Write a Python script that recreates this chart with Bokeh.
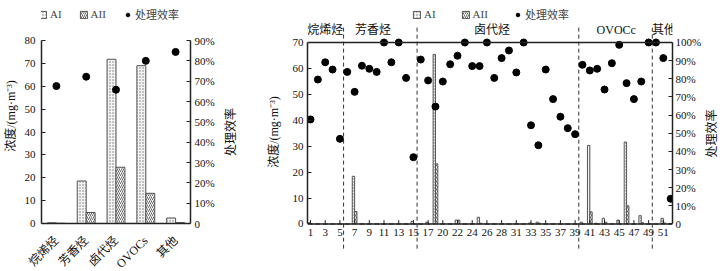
import math
from bokeh.plotting import figure
from bokeh.models import (Range1d, LinearAxis, FixedTicker, ColumnDataSource, Legend,
                          LegendItem, Span, FactorRange)
from bokeh.transform import dodge
from bokeh.layouts import row
from bokeh.core.properties import value
from bokeh.embed import file_html
from bokeh.resources import INLINE

FONT = "Liberation Serif, Noto Sans CJK SC"

# ---------------- left panel data ----------------
group_names = ["烷烯烃", "芳香烃", "卤代烃", "OVOCs", "其他"]
group_ai = [0.3, 18.6, 71.8, 69.0, 2.4]
group_aii = [0.1, 4.8, 24.6, 13.2, 0.4]
group_eff = [67.6, 72.2, 65.8, 80.0, 84.4]

# ---------------- right panel data ----------------
compound_pos = list(range(1, 51))
compound_ai = [0.5, 0, 0, 0, 0,
               0, 18.4, 0, 0, 0,
               0, 0, 0, 0, 1.0,
               0, 0.7, 65.4, 0, 0,
               1.5, 0, 0, 2.6, 0,
               0, 0, 0, 0, 0,
               0.4, 0.7, 0, 0, 0,
               0, 0, 0.7, 30.3, 0.3,
               2.2, 0, 1.5, 31.6, 0,
               3.2, 0, 0, 2.2, 0]
compound_aii = [0, 0, 0, 0, 0,
                0, 4.8, 0, 0, 0,
                0, 0, 0, 0, 0,
                0, 0, 23.2, 0, 0,
                1.5, 0, 0, 0.3, 0,
                0, 0, 0, 0, 0,
                0, 0.3, 0, 0, 0,
                0, 0, 0, 4.7, 0,
                0.7, 0, 0, 7.0, 0,
                0.5, 0, 0, 0.4, 0]
compound_eff = [57.6, 79.6, 89.1, 85.1, 46.9,
                83.8, 72.8, 87.2, 85.5, 83.8,
                100, 89.1, 100, 80.5, 36.8,
                90.6, 79.1, 64.7, 78.5, 88.0,
                92.7, 100, 87.0, 87.0, 100,
                80.5, 91.4, 95.6, 83.5, 100,
                54.4, 43.4, 85.1, 68.8, 59.1,
                52.8, 49.5, 87.7, 84.6, 85.5,
                74.1, 88.6, 98.7, 77.6, 68.8,
                78.5, 100, 100, 91.4, 13.9]
tick_labels = ["1", "3", "5", "7", "9", "11", "13", "15", "17", "20", "22", "24", "26",
               "28", "31", "33", "35", "37", "39", "41", "43", "45", "47", "49", "51"]
section_names = ["烷烯烃", "芳香烃", "卤代烃", "OVOCc", "其他"]
section_sizes = [5, 10, 22, 10, 3]
section_label_x = [3.0, 9.5, 25.7, 42.6, 49.1]

AXIS_COLOR = "#222222"
BAR_LINE = "#555555"
TOP = 8
PAGE_H = 255


def style_axis(ax, tick_in=4):
    ax.axis_line_color = AXIS_COLOR
    ax.axis_line_width = 1.5
    ax.major_tick_line_color = AXIS_COLOR
    ax.major_tick_in = tick_in
    ax.major_tick_out = 0
    ax.minor_tick_line_color = None
    ax.major_label_text_font = FONT
    ax.major_label_text_font_size = "11px"
    ax.major_label_text_color = "#111111"
    ax.axis_label_text_font = FONT
    ax.axis_label_text_font_size = "12px"
    ax.axis_label_text_font_style = "normal"
    ax.axis_label_text_color = "#111111"


def bar_styles(kind):
    if kind == "ai":
        return dict(fill_color="#f4f4f4", hatch_pattern="dot", hatch_scale=3,
                    hatch_color="#777777", hatch_weight=1.0, line_color=BAR_LINE, line_width=1)
    return dict(fill_color="white", hatch_pattern="right_diagonal_line", hatch_scale=4,
                hatch_color="#444444", hatch_weight=0.8, line_color=BAR_LINE, line_width=1)


def label_strip(width, cx, cy, text):
    """A narrow figure that only carries a vertical (bottom-to-top) axis title."""
    f = figure(x_range=Range1d(0, width), y_range=Range1d(0, PAGE_H),
               frame_width=width, frame_height=PAGE_H, output_backend="svg",
               toolbar_location=None, x_axis_location=None, y_axis_location=None,
               min_border_left=0, min_border_right=0, min_border_bottom=0,
               min_border_top=TOP, outline_line_color=None,
               background_fill_color="white", border_fill_color="white")
    f.grid.visible = False
    f.text(x=[cx], y=[cy], text=[text], angle=math.pi / 2, text_align="center",
           text_baseline="middle", text_font=value(FONT), text_font_size="12px",
           text_color="#111111")
    return f


# ================= left figure =================
src1 = ColumnDataSource(dict(cat=group_names, ai=group_ai, aii=group_aii, eff=group_eff))
y1_top = 94.0
FW1, FH1 = 149, 215
p1 = figure(x_range=FactorRange(*group_names), y_range=Range1d(0, y1_top),
            frame_width=FW1, frame_height=FH1, output_backend="svg", toolbar_location=None,
            min_border_left=35, min_border_right=27, min_border_top=TOP, min_border_bottom=40,
            outline_line_color=None, background_fill_color="white", border_fill_color="white")
p1.grid.visible = False
p1.extra_y_ranges = {"pct": Range1d(0, y1_top * 90 / 80)}

r_ai1 = p1.vbar(x=dodge("cat", -0.15, range=p1.x_range), top="ai", width=0.3, source=src1,
                **bar_styles("ai"))
r_aii1 = p1.vbar(x=dodge("cat", 0.15, range=p1.x_range), top="aii", width=0.3, source=src1,
                 **bar_styles("aii"))
r_eff1 = p1.scatter(x="cat", y="eff", y_range_name="pct", source=src1, size=7,
                    color="black")

ly1 = p1.yaxis[0]
style_axis(ly1)
ly1.bounds = (0, 80)
ly1.ticker = FixedTicker(ticks=list(range(0, 81, 10)))
ly1.axis_label = "浓度/(mg·m⁻³)"
ly1.major_label_standoff = 6
ly1.axis_label_standoff = 4

ry1 = LinearAxis(y_range_name="pct", bounds=(0, 90),
                 ticker=FixedTicker(ticks=list(range(0, 91, 10))))
style_axis(ry1)
ry1.major_label_overrides = {t: ("0" if t == 0 else f"{t}%") for t in range(0, 91, 10)}
ry1.major_label_standoff = 4
p1.add_layout(ry1, "right")

bx1 = p1.xaxis[0]
style_axis(bx1, tick_in=0)
bx1.major_tick_line_color = None
bx1.major_label_orientation = math.pi / 4
bx1.major_label_text_font_size = "12px"
bx1.major_label_standoff = 15

leg1 = Legend(items=[LegendItem(label="AI", renderers=[r_ai1]),
                     LegendItem(label="AII", renderers=[r_aii1]),
                     LegendItem(label="处理效率", renderers=[r_eff1])],
              orientation="horizontal", location=(-3, FH1 - 22 + TOP), padding=0, margin=0,
              spacing=17, glyph_width=9, glyph_height=9, label_standoff=3, label_width=0,
              label_height=10, label_text_font=FONT, label_text_font_size="11px",
              background_fill_alpha=0, border_line_color=None)
p1.add_layout(leg1)

# title strip for the left panel's right axis
t1 = label_strip(20, 13.0, 131.5, "处理效率")

# ================= right figure =================
src2 = ColumnDataSource(dict(pos=compound_pos, ai=compound_ai, aii=compound_aii, eff=compound_eff))
y2_lo, y2_hi = -12.15, 83.11
FW2, FH2 = 365, 247
p2 = figure(x_range=Range1d(0.59, 50.25), y_range=Range1d(y2_lo, y2_hi),
            frame_width=FW2, frame_height=FH2, output_backend="svg", toolbar_location=None,
            x_axis_location=None,
            min_border_left=70, min_border_right=29, min_border_top=TOP, min_border_bottom=0,
            outline_line_color=None, background_fill_color="white", border_fill_color="white")
p2.grid.visible = False
p2.extra_y_ranges = {"pct": Range1d(y2_lo * 100 / 70, y2_hi * 100 / 70)}

# section separators
bounds = [0.5]
for s in section_sizes:
    bounds.append(bounds[-1] + s)
seps = bounds[1:-1]
p2.segment(x0=seps, y0=[-9.5] * len(seps), x1=seps, y1=[76.8] * len(seps),
           line_color="#333333", line_width=1, line_dash="4 3")

r_ai2 = p2.vbar(x=dodge("pos", -0.16), top="ai", width=0.32, source=src2, **bar_styles("ai"))
r_aii2 = p2.vbar(x=dodge("pos", 0.16), top="aii", width=0.32, source=src2, **bar_styles("aii"))
r_eff2 = p2.scatter(x="pos", y="eff", y_range_name="pct", source=src2, size=7, color="black")

# axis box lines (bottom at 0 and top at 70)
p2.add_layout(Span(location=0, dimension="width", line_color=AXIS_COLOR, line_width=1.5))
p2.add_layout(Span(location=70, dimension="width", line_color=AXIS_COLOR, line_width=1.5))

# x ticks and tick labels at the zero line
tick_pos = compound_pos[::2]
p2.segment(x0=tick_pos, y0=[0] * len(tick_pos), x1=tick_pos, y1=[1.5] * len(tick_pos),
           line_color=AXIS_COLOR, line_width=1)
p2.text(x=tick_pos, y=[0] * len(tick_pos), text=tick_labels, text_align="center",
        text_baseline="top", y_offset=5, text_font=value(FONT), text_font_size="11px",
        text_color="#111111")

# section names
p2.text(x=section_label_x, y=[75] * len(section_names), text=section_names,
        text_align="center", text_baseline="middle", text_font=value(FONT),
        text_font_size="12px", text_color="#111111")

ly2 = p2.yaxis[0]
style_axis(ly2)
ly2.bounds = (0, 70)
ly2.ticker = FixedTicker(ticks=list(range(0, 71, 10)))
ly2.axis_label = "浓度/(mg·m⁻³)"
ly2.major_label_standoff = 4
ly2.axis_label_standoff = 9

ry2 = LinearAxis(y_range_name="pct", bounds=(0, 100),
                 ticker=FixedTicker(ticks=list(range(0, 101, 10))))
style_axis(ry2)
ry2.major_label_overrides = {t: ("0" if t == 0 else f"{t}%") for t in range(0, 101, 10)}
ry2.major_label_standoff = 3
p2.add_layout(ry2, "right")

leg2 = Legend(items=[LegendItem(label="AI", renderers=[r_ai2]),
                     LegendItem(label="AII", renderers=[r_aii2]),
                     LegendItem(label="处理效率", renderers=[r_eff2])],
              orientation="horizontal", location=(105, FH2 - 22 + TOP), padding=0, margin=0,
              spacing=25, glyph_width=9, glyph_height=9, label_standoff=3, label_width=0,
              label_height=10, label_text_font=FONT, label_text_font_size="11px",
              background_fill_alpha=0, border_line_color=None)
p2.add_layout(leg2)

# title strip for the right panel's right axis
t2 = label_strip(14, 7.0, 122.0 + TOP, "处理效率")

layout = row(p1, t1, p2, t2)
open("out.html", "w").write(file_html(layout, INLINE))
